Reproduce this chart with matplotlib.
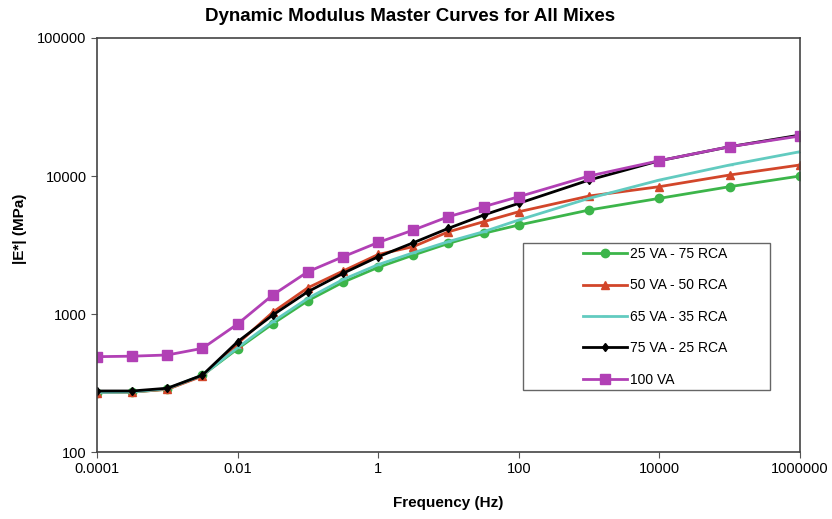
import numpy as np
import matplotlib.pyplot as plt
from matplotlib.ticker import FixedLocator, NullLocator
from matplotlib.patches import Rectangle

plt.rcParams['font.family'] = ['Liberation Sans', 'DejaVu Sans']

freq = [1e-4, 10**-3.5, 1e-3, 10**-2.5, 1e-2, 10**-1.5, 1e-1, 10**-0.5, 1,
        10**0.5, 10, 10**1.5, 100, 1e3, 1e4, 1e5, 1e6]

va25 = [270, 272, 285, 360, 560, 850, 1250, 1700, 2180, 2675, 3250, 3845, 4415,
        5670, 6890, 8370, 10000]
va50 = [270, 272, 285, 355, 610, 1030, 1550, 2050, 2700, 3080, 3945, 4665, 5510,
        7160, 8370, 10170, 12020]
va65 = [270, 272, 288, 360, 570, 880, 1300, 1780, 2280, 2780, 3350, 3950, 4800,
        6890, 9350, 12020, 15000]
va75 = [277, 277, 290, 361, 630, 983, 1452, 1972, 2600, 3285, 4180, 5215, 6340,
        9350, 12900, 16300, 19800]
va100 = [491, 495, 505, 564, 847, 1374, 2026, 2600, 3300, 4060, 5075, 5995, 7080,
         10000, 12910, 16310, 19490]

labels = ['25 VA - 75 RCA', '50 VA - 50 RCA', '65 VA - 35 RCA', '75 VA - 25 RCA', '100 VA']

fig = plt.figure(figsize=(8.32, 5.19), dpi=100)
ax = fig.add_axes([0.1166, 0.129, 0.8449, 0.7978])

ax.plot(freq, va25, color='#3cb54a', marker='o', ms=6, lw=2, label=labels[0])
ax.plot(freq, va50, color='#d2462a', marker='^', ms=6, lw=2, label=labels[1])
ax.plot(freq, va65, color='#62cbc0', marker='_', ms=4, lw=2, label=labels[2])
ax.plot(freq, va75, color='black', marker='d', ms=4.5, lw=2, label=labels[3])
ax.plot(freq, va100, color='#b140b5', marker='s', ms=7, lw=2, label=labels[4])

ax.set_xscale('log')
ax.set_yscale('log')
ax.set_xlim(1e-4, 1e6)
ax.set_ylim(100, 100000)

xt = [1e-4, 1e-2, 1, 100, 1e4, 1e6]
yt = [100, 1000, 10000, 100000]
ax.xaxis.set_major_locator(FixedLocator(xt))
ax.xaxis.set_minor_locator(NullLocator())
ax.yaxis.set_major_locator(FixedLocator(yt))
ax.yaxis.set_minor_locator(NullLocator())
ax.set_xticklabels(['0.0001', '0.01', '1', '100', '10000', '1000000'])
ax.set_yticklabels(['100', '1000', '10000', '100000'])
ax.tick_params(labelsize=10.5, length=4, color='#555555')

for s in ax.spines.values():
    s.set_color('#444444')
    s.set_linewidth(1.2)

fig.text(0.493, 0.968, 'Dynamic Modulus Master Curves for All Mixes', fontsize=13.5,
         fontweight='bold', ha='center', va='center')
ax.set_xlabel('Frequency (Hz)', fontsize=11, fontweight='bold', labelpad=14)
ax.set_ylabel('|E*| (MPa)', fontsize=11, fontweight='bold')
ax.yaxis.set_label_coords(-0.100, 0.54)

# legend box drawn separately (Excel-style wide frame)
ax.add_patch(Rectangle((0.606, 0.150), 0.351, 0.355, transform=ax.transAxes,
                       facecolor='white', edgecolor='#666666', lw=1.0, zorder=4))
leg = ax.legend(loc='upper left', bbox_to_anchor=(0.691, 0.495), fontsize=10,
                frameon=False, handlelength=3.2, handletextpad=0.2,
                labelspacing=1.25, borderpad=0, borderaxespad=0)
leg.set_zorder(5)

fig.savefig('out.png', dpi=100)
